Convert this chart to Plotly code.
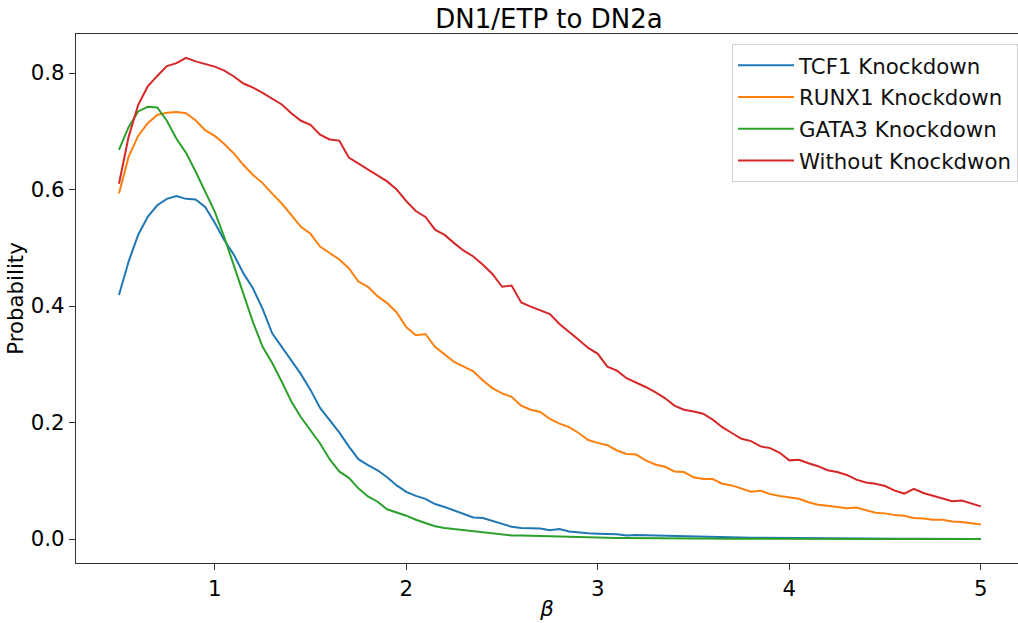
import plotly.graph_objects as go

beta = [round(0.5 + 0.05 * i, 2) for i in range(91)]

tcf1 = [0.419, 0.476, 0.522, 0.553, 0.573, 0.584, 0.589, 0.584, 0.583, 0.570,
        0.543, 0.513, 0.488, 0.456, 0.430, 0.395, 0.353, 0.330, 0.306, 0.283,
        0.256, 0.225, 0.204, 0.183, 0.159, 0.137, 0.127, 0.118, 0.106, 0.092,
        0.081, 0.074, 0.069, 0.060, 0.055, 0.049, 0.043, 0.037, 0.036, 0.031,
        0.027, 0.021, 0.019, 0.019, 0.018, 0.015, 0.017, 0.013, 0.011, 0.0097,
        0.009, 0.0086, 0.008, 0.006, 0.007, 0.0065, 0.006, 0.0055, 0.005, 0.0048,
        0.0045, 0.004, 0.0035, 0.0032, 0.003, 0.0026, 0.0022, 0.002, 0.0018, 0.0016,
        0.0014, 0.0013, 0.0012, 0.0011, 0.001, 0.0009, 0.0008, 0.0007, 0.0007, 0.0006,
        0.0006, 0.0005, 0.0005, 0.0004, 0.0004, 0.0004, 0.0003, 0.0003, 0.0003, 0.0002,
        0.0002]

runx1 = [0.593, 0.656, 0.692, 0.714, 0.728, 0.732, 0.733, 0.731, 0.719, 0.702,
         0.692, 0.678, 0.662, 0.642, 0.625, 0.611, 0.593, 0.576, 0.556, 0.536,
         0.524, 0.502, 0.491, 0.480, 0.465, 0.442, 0.433, 0.417, 0.405, 0.389,
         0.364, 0.350, 0.352, 0.330, 0.317, 0.304, 0.296, 0.288, 0.272, 0.259,
         0.250, 0.244, 0.229, 0.222, 0.218, 0.206, 0.198, 0.192, 0.182, 0.170,
         0.165, 0.161, 0.152, 0.146, 0.145, 0.135, 0.128, 0.124, 0.116, 0.115,
         0.106, 0.103, 0.103, 0.095, 0.092, 0.087, 0.081, 0.083, 0.077, 0.074,
         0.071, 0.069, 0.063, 0.059, 0.057, 0.055, 0.053, 0.054, 0.050, 0.045,
         0.044, 0.041, 0.040, 0.036, 0.035, 0.033, 0.033, 0.030, 0.029, 0.027,
         0.025]

gata3 = [0.668, 0.707, 0.734, 0.742, 0.741, 0.718, 0.687, 0.663, 0.631, 0.595,
         0.562, 0.518, 0.470, 0.421, 0.372, 0.330, 0.302, 0.270, 0.236, 0.209,
         0.187, 0.164, 0.137, 0.116, 0.105, 0.087, 0.073, 0.064, 0.051, 0.046,
         0.040, 0.033, 0.027, 0.022, 0.019, 0.017, 0.015, 0.013, 0.012, 0.009,
         0.0075, 0.006, 0.006, 0.0055, 0.0047, 0.0045, 0.004, 0.0034, 0.003, 0.0026,
         0.0022, 0.002, 0.0018, 0.0016, 0.0014, 0.0012, 0.0011, 0.001, 0.0009, 0.0008,
         0.0007, 0.0006, 0.0006, 0.0005, 0.0005, 0.0005, 0.0004, 0.0004, 0.0004, 0.0003,
         0.0003, 0.0003, 0.0003, 0.0002, 0.0002, 0.0002, 0.0002, 0.0002, 0.0002, 0.0001,
         0.0001, 0.0001, 0.0001, 0.0001, 0.0001, 0.0001, 0.0001, 0.0001, 0.0001, 0.0001,
         0.0001]

without_kd = [0.610, 0.690, 0.745, 0.777, 0.795, 0.812, 0.817, 0.826, 0.820, 0.815,
              0.811, 0.804, 0.794, 0.782, 0.775, 0.766, 0.756, 0.746, 0.731, 0.718,
              0.711, 0.694, 0.686, 0.684, 0.655, 0.645, 0.635, 0.624, 0.614, 0.600,
              0.580, 0.563, 0.553, 0.531, 0.522, 0.508, 0.495, 0.485, 0.471, 0.455,
              0.433, 0.435, 0.406, 0.399, 0.392, 0.386, 0.369, 0.356, 0.342, 0.328,
              0.318, 0.296, 0.289, 0.276, 0.269, 0.261, 0.252, 0.242, 0.229, 0.222,
              0.219, 0.215, 0.205, 0.192, 0.182, 0.172, 0.168, 0.159, 0.156, 0.148,
              0.135, 0.136, 0.130, 0.125, 0.118, 0.115, 0.110, 0.102, 0.097, 0.095,
              0.091, 0.083, 0.078, 0.086, 0.079, 0.074, 0.069, 0.065, 0.066, 0.061,
              0.056]

series_names = ["TCF1 Knockdown", "RUNX1 Knockdown", "GATA3 Knockdown", "Without Knockdwon"]
series_values = [tcf1, runx1, gata3, without_kd]
colors = ["#1f77b4", "#ff7f0e", "#2ca02c", "#d62728"]

FONT = "DejaVu Sans"
FS = 21.3

fig = go.Figure()
for i, (name, vals, col) in enumerate(zip(series_names, series_values, colors)):
    fig.add_trace(go.Scatter(
        x=beta, y=vals, mode="lines", name=name,
        line=dict(color=col, width=2),
        legendgroup=f"g{i}",
    ))

W, H = 1018, 623
L, R, T, B = 76, 0, 34, 623 - 563

fig.update_layout(
    width=W, height=H,
    margin=dict(l=L, r=R, t=T, b=B, pad=0, autoexpand=False),
    paper_bgcolor="white", plot_bgcolor="white",
    font=dict(family=FONT, size=FS, color="black"),
    title=dict(text="DN1/ETP to DN2a", x=549 / W, xref="container", xanchor="center",
               y=1 - 19 / H, yref="container", yanchor="middle",
               font=dict(family=FONT, size=26, color="black")),
    showlegend=True,
    legend=dict(
        x=1.0, xanchor="right",
        y=(563 - 44) / (H - T - B), yanchor="top",
        bgcolor="white", bordercolor="#d0d0d0", borderwidth=1,
        font=dict(family=FONT, size=FS, color="#111"),
        tracegroupgap=1, itemwidth=56,
    ),
    xaxis=dict(
        range=[0.2756, 5.194], automargin=False,
        tickvals=[1, 2, 3, 4, 5], ticktext=["1", "2", "3", "4", "5"],
        ticks="outside", ticklen=6, tickwidth=1, tickcolor="#333",
        showline=True, linecolor="#333", linewidth=1.2, mirror=True,
        showgrid=False, zeroline=False,
        title=dict(text="<i>β</i>", font=dict(family=FONT, size=FS), standoff=1),
        tickfont=dict(family=FONT, size=FS),
    ),
    yaxis=dict(
        range=[-0.0412, 0.867], automargin=False,
        tickvals=[0.0, 0.2, 0.4, 0.6, 0.8], tickformat=".1f",
        ticks="outside", ticklen=6, tickwidth=1, tickcolor="#333",
        showline=True, linecolor="#333", linewidth=1.2, mirror=False,
        showgrid=False, zeroline=False,
        title=dict(text="Probability", font=dict(family=FONT, size=FS), standoff=1),
        tickfont=dict(family=FONT, size=FS),
    ),
)

# remove the browser's default 8px body margin so the figure fills the window exactly
fig.write_html("out.html", config={"displayModeBar": False},
               post_script='document.body.style.margin="0";')
